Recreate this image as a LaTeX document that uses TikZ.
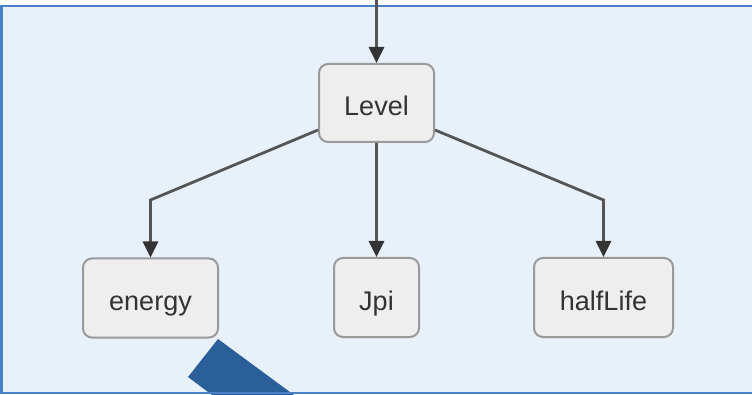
\documentclass[tikz,border=0pt]{standalone}
\usepackage{fontspec}
\setmainfont{Liberation Sans}
\usetikzlibrary{arrows.meta,calc}
\definecolor{bgfill}{HTML}{E8F1FA}
\definecolor{bgline}{HTML}{4A80C8}
\definecolor{boxfill}{HTML}{EEEEEE}
\definecolor{boxline}{HTML}{9A9A9A}
\definecolor{edgecol}{HTML}{555555}
\definecolor{tipcol}{HTML}{333333}
\definecolor{textcol}{HTML}{333333}
\definecolor{blob}{HTML}{2A5F9A}
\tikzset{
  boxnode/.style={draw=boxline, line width=2pt, fill=boxfill, rounded corners=9pt,
    inner sep=0pt, text=textcol, font=\fontsize{27}{32}\selectfont,
    text height=25pt, text depth=0pt},
  edge/.style={draw=edgecol, line width=2.8pt,
    -{Triangle[width=15pt,length=16pt,color=tipcol]}}
}
\begin{document}
\begin{tikzpicture}[x=1pt,y=-1pt]
\useasboundingbox (0,0) rectangle (752,395);
\clip (0,0) rectangle (752,395);
\fill[bgfill] (1.5,6) rectangle (770,393);
\fill[blob] (218,339) -- (188,377) -- (212,395) -- (294,395) -- cycle;
\draw[bgline, line width=2.5pt] (1.5,6) rectangle (770,393);
\node[boxnode, minimum width=115pt, minimum height=78pt] (Level) at (376.5,103) {Level};
\node[boxnode, minimum width=135pt, minimum height=79pt] (energy) at (150.5,298) {energy};
\node[boxnode, minimum width=85pt, minimum height=79pt] (Jpi) at (376.5,297.5) {Jpi};
\node[boxnode, minimum width=139pt, minimum height=79pt] (halfLife) at (603.5,297.5) {halfLife};
\coordinate (top) at (376.5,-2);
\coordinate (bend) at (0,200);
\draw[edge] (top) -- (Level.north);
\draw[edge] (Level.south) -- (Jpi.north);
\draw[edge] ($(Level.south west)+(0,-13)$) -- (energy.north |- bend) -- (energy.north);
\draw[edge] ($(Level.south east)+(0,-13)$) -- (halfLife.north |- bend) -- (halfLife.north);
\end{tikzpicture}
\end{document}
